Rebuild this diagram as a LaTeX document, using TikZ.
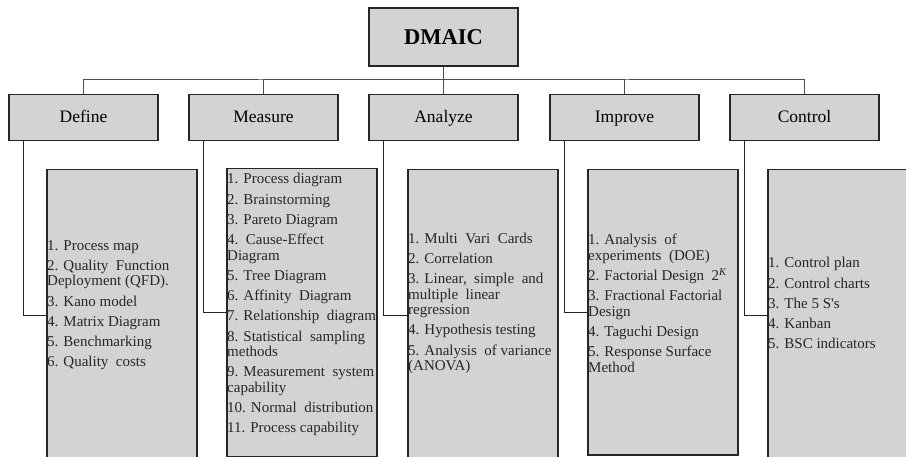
\documentclass[tikz,border=0pt]{standalone}
\usepackage{fontspec}
\setmainfont{Liberation Serif}
\usetikzlibrary{positioning}

\definecolor{boxgray}{HTML}{D3D3D3}
\definecolor{edgegray}{HTML}{262626}

\begin{document}
\begin{tikzpicture}[x=1pt, y=-1pt,
    topbox/.style={draw=edgegray, line width=1.5pt, fill=boxgray, minimum width=149, minimum height=58,
                   font={\fontsize{22.5}{24}\selectfont\bfseries}},
    phasebox/.style={draw=edgegray, line width=1.5pt, fill=boxgray, minimum width=149, minimum height=46,
                     text height=13.5, text depth=2.5, font={\fontsize{17.5}{19}\selectfont}},
    listbox/.style={draw=edgegray, line width=1.5pt, fill=boxgray, minimum width=150, anchor=north west,
                    inner sep=0},
    items/.style={align=left, anchor=west, inner sep=0, text=black!85,
                  font={\fontsize{15}{15.3}\selectfont}},
    bus/.style={line width=1pt, black!70},
    link/.style={line width=1.2pt, edgegray}]

    \clip (0,0) rectangle (906,457);

    %% Top of the tree
    \node[topbox] (dmaic) at (443.5,37) {DMAIC};

    % Phase boxes
    \node[phasebox] (def) at (83.5,117.5) {Define};
    \node[phasebox] (mea) at (263.5,117.5) {Measure};
    \node[phasebox] (ana) at (443.5,117.5) {Analyze};
    \node[phasebox] (imp) at (624.5,117.5) {Improve};
    \node[phasebox] (ctl) at (804.5,117.5) {Control};

    % Bus between DMAIC and the phases
    \coordinate (bus) at (443.5,80);
    \draw[bus] (def.north) |- (bus) -| (ctl.north);
    \draw[bus] (mea.north) |- (bus);
    \draw[bus] (imp.north) |- (bus);
    \draw[bus] (dmaic.south) -- (ana.north);

    %% Tool lists
    \node[listbox, minimum height=291] (defL) at (46,169) {};
    \node[listbox, minimum height=288] (meaL) at (226,168) {};
    \node[listbox, minimum height=291] (anaL) at (407,169) {};
    \node[listbox, minimum height=285] (impL) at (587,169) {};
    \node[listbox, minimum height=291] (ctlL) at (767,169) {};

    % Links from each phase down to its list
    \draw[link] ([xshift=15]def.south west) |- (defL.west);
    \draw[link] ([xshift=15]mea.south west) |- (meaL.west);
    \draw[link] ([xshift=15]ana.south west) |- (anaL.west);
    \draw[link] ([xshift=15]imp.south west) |- (impL.west);
    \draw[link] ([xshift=15]ctl.south west) |- (ctlL.west);

    % List texts
    \node[items] (defT) at ([xshift=1,yshift=10]defL.west)
        {1. Process map\\[5pt]
         2. Quality\ \ Function\\
         Deployment (QFD).\\[5pt]
         3. Kano model\\[5pt]
         4. Matrix Diagram\\[5pt]
         5. Benchmarking\\[5pt]
         6. Quality\ \ costs};
    \node[items] (meaT) at ([xshift=1,yshift=8]meaL.west)
        {1. Process diagram\\[5pt]
         2. Brainstorming\\[5pt]
         3. Pareto Diagram\\[5pt]
         4.\ \ Cause-Effect\\
         Diagram\\[5pt]
         5. Tree Diagram\\[5pt]
         6. Affinity\ \ Diagram\\[5pt]
         7. Relationship\ \ diagram\\[5pt]
         8. Statistical\ \ sampling\\
         methods\\[5pt]
         9. Measurement\ \ system\\
         capability\\[5pt]
         10. Normal\ \ distribution\\[5pt]
         11. Process capability};
    \node[items] (anaT) at ([xshift=1,yshift=12]anaL.west)
        {1. Multi\ \ Vari\ \ Cards\\[5pt]
         2. Correlation\\[5pt]
         3. Linear,\ \ simple\ \ and\\
         multiple\ \ linear\\
         regression\\[5pt]
         4. Hypothesis testing\\[5pt]
         5. Analysis\ \ of variance\\
         (ANOVA)};
    \node[items] (impT) at ([xshift=1,yshift=9]impL.west)
        {1. Analysis\ \ of\\
         experiments\ \ (DOE)\\[5pt]
         2. Factorial Design\ \ 2\textsuperscript{\textit{K}}\\[5pt]
         3. Fractional Factorial\\
         Design\\[5pt]
         4. Taguchi Design\\[5pt]
         5. Response Surface\\
         Method};
    \node[items] (ctlT) at ([xshift=1,yshift=12]ctlL.west)
        {1. Control plan\\[5pt]
         2. Control charts\\[5pt]
         3. The 5 S\textquotesingle s\\[5pt]
         4. Kanban\\[5pt]
         5. BSC indicators};

\end{tikzpicture}
\end{document}
